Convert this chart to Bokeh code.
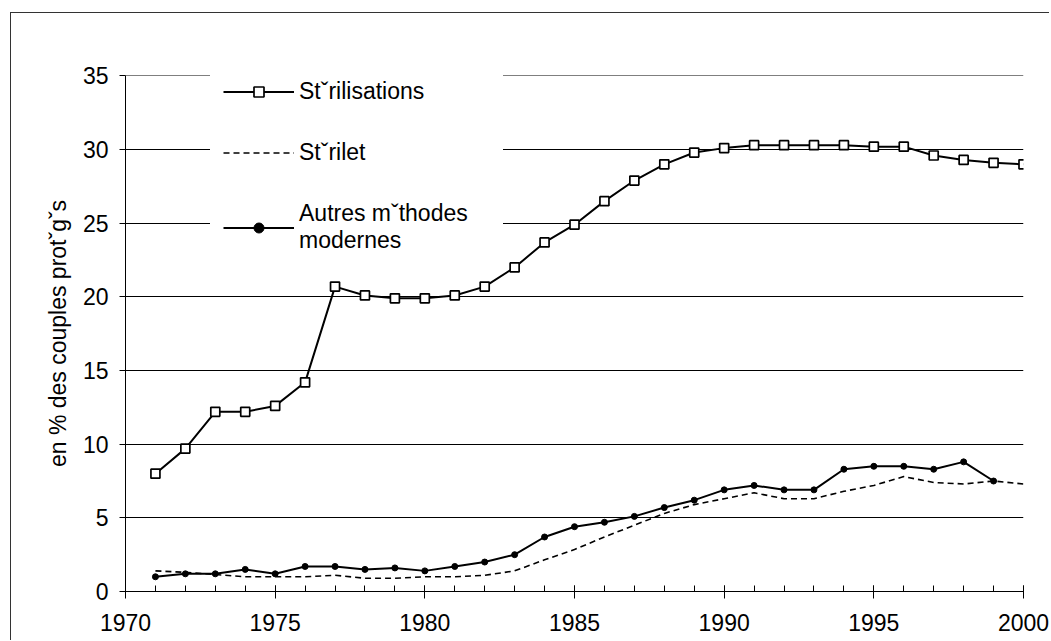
from bokeh.plotting import figure
from bokeh.models import FixedTicker, Legend, LegendItem, Range1d
from bokeh.embed import file_html
from bokeh.resources import INLINE

years = list(range(1971, 2001))
sterilisations = [8.0, 9.7, 12.2, 12.2, 12.6, 14.2, 20.7, 20.1, 19.9, 19.9,
                  20.1, 20.7, 22.0, 23.7, 24.9, 26.5, 27.9, 29.0, 29.8, 30.1,
                  30.3, 30.3, 30.3, 30.3, 30.2, 30.2, 29.6, 29.3, 29.1, 29.0]
sterilet = [1.4, 1.3, 1.15, 1.0, 1.0, 1.0, 1.1, 0.9, 0.9, 1.0,
            1.0, 1.1, 1.4, 2.15, 2.85, 3.7, 4.5, 5.3, 5.9, 6.3,
            6.7, 6.3, 6.3, 6.8, 7.2, 7.8, 7.4, 7.3, 7.5, 7.3]
autres_years = list(range(1971, 2000))
autres = [1.0, 1.2, 1.2, 1.5, 1.2, 1.7, 1.7, 1.5, 1.6, 1.4,
          1.7, 2.0, 2.5, 3.7, 4.4, 4.7, 5.1, 5.7, 6.2, 6.9,
          7.2, 6.9, 6.9, 8.3, 8.5, 8.5, 8.3, 8.8, 7.5]

x_ticks = [1970, 1975, 1980, 1985, 1990, 1995, 2000]
y_ticks = [0, 5, 10, 15, 20, 25, 30, 35]
label_sterilisations = "St\u02c7rilisations"
label_sterilet = "St\u02c7rilet"
label_autres = "Autres m\u02c7thodes\nmodernes"
y_label = "en % des couples prot\u02c7g\u02c7s"

FONT = "Liberation Sans"
FS = "23px"

p = figure(width=1039, height=628, x_range=Range1d(1970, 2000), y_range=Range1d(0, 35.03),
           output_backend="svg", toolbar_location=None,
           min_border_left=114, min_border_right=27,
           min_border_top=62, min_border_bottom=50)
p.styles = {"border-top": "1px solid #333333", "border-left": "1px solid #333333",
            "margin-left": "10px", "margin-top": "12px"}
p.outline_line_color = None
p.background_fill_color = "white"

# axes
p.xaxis.ticker = FixedTicker(ticks=x_ticks, minor_ticks=list(range(1970, 2001)))
p.yaxis.ticker = FixedTicker(ticks=y_ticks, minor_ticks=[])
for ax in (p.xaxis[0], p.yaxis[0]):
    ax.axis_line_color = "black"
    ax.axis_line_width = 1
    ax.major_tick_line_color = "black"
    ax.minor_tick_line_color = "black"
    ax.major_label_text_font = FONT
    ax.major_label_text_font_size = FS
    ax.major_label_text_color = "black"
p.xaxis.major_tick_in = 6
p.xaxis.major_tick_out = 7
p.xaxis.minor_tick_in = 6
p.xaxis.minor_tick_out = 0
p.xaxis.major_label_standoff = 15
p.yaxis.major_tick_in = 0
p.yaxis.major_tick_out = 6
p.yaxis.minor_tick_in = 0
p.yaxis.minor_tick_out = 0
p.yaxis.major_label_standoff = 11
p.yaxis.axis_label = y_label
p.yaxis.axis_label_text_font = FONT
p.yaxis.axis_label_text_font_size = FS
p.yaxis.axis_label_text_font_style = "normal"
p.yaxis.axis_label_text_color = "black"
p.yaxis.axis_label_standoff = 9

p.xgrid.grid_line_color = None
p.ygrid.grid_line_color = "black"
p.ygrid.grid_line_width = 1

# series
r1l = p.line(years, sterilisations, line_color="black", line_width=2)
r1m = p.scatter(years, sterilisations, marker="square", size=9,
                fill_color="white", line_color="black", line_width=1.7)
r2 = p.line(years, sterilet, line_color="black", line_width=1.6, line_dash="6 4")
r3l = p.line(autres_years, autres, line_color="black", line_width=2)
r3m = p.scatter(autres_years, autres, marker="circle", size=6,
                fill_color="black", line_color="black")

legend = Legend(items=[
    LegendItem(label=label_sterilisations, renderers=[r1l, r1m]),
    LegendItem(label=label_sterilet, renderers=[r2]),
    LegendItem(label=label_autres, renderers=[r3l, r3m]),
], location=(85, 324))
legend.label_text_font = FONT
legend.label_text_font_size = FS
legend.label_text_color = "black"
legend.label_text_line_height = 1.1
legend.glyph_width = 71
legend.glyph_height = 25
legend.label_height = 25
legend.label_width = 191
legend.label_standoff = 5
legend.padding = 12
legend.spacing = 34
legend.border_line_color = "white"
legend.background_fill_color = "white"
legend.background_fill_alpha = 1
legend.margin = 0
p.add_layout(legend, "center")

open("out.html", "w").write(file_html(p, INLINE))
